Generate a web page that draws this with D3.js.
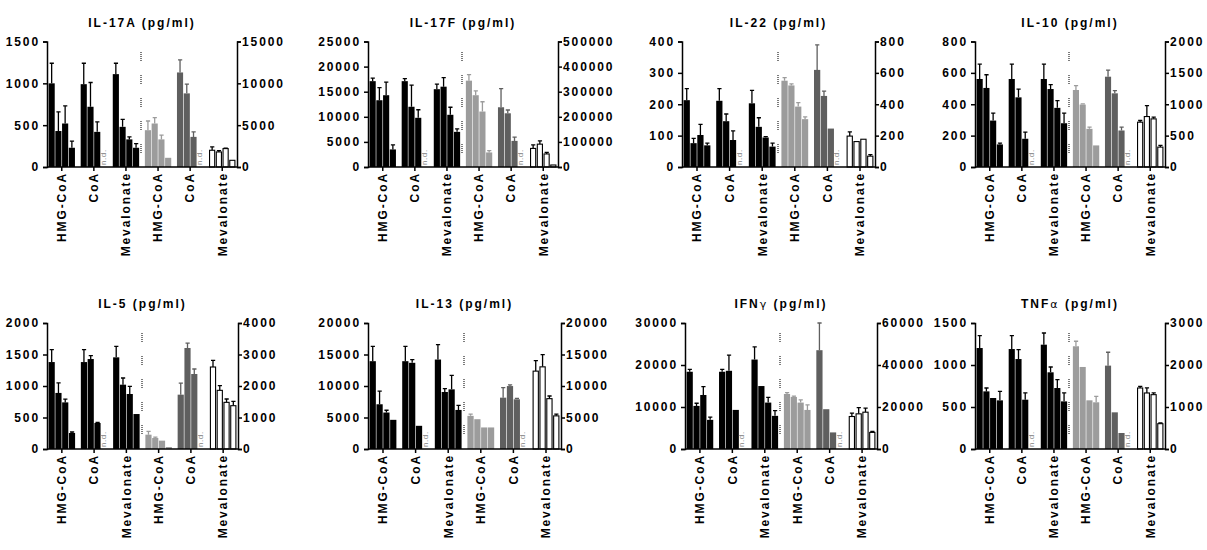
<!DOCTYPE html>
<html>
<head>
<meta charset="utf-8">
<script src="https://cdn.jsdelivr.net/npm/d3@7"></script>
<style>
body { margin: 0; background: #fff; }
svg { display: block; font-family: "Liberation Sans", Arial, sans-serif; }
</style>
</head>
<body>
<svg id="chart" width="1207" height="550"></svg>
<script>
const titles = ["IL-17A (pg/ml)", "IL-17F (pg/ml)", "IL-22 (pg/ml)", "IL-10 (pg/ml)",
    "IL-5 (pg/ml)", "IL-13 (pg/ml)", "IFNγ (pg/ml)", "TNFα (pg/ml)"]
const groupLabels = ["HMG-CoA", "CoA", "Mevalonate", "HMG-CoA", "CoA", "Mevalonate"]

const leftTicks = [
    [0, 500, 1000, 1500],
    [0, 5000, 10000, 15000, 20000, 25000],
    [0, 100, 200, 300, 400],
    [0, 200, 400, 600, 800],
    [0, 500, 1000, 1500, 2000],
    [0, 5000, 10000, 15000, 20000],
    [0, 10000, 20000, 30000],
    [0, 500, 1000, 1500]
]
const rightTicks = [
    [0, 5000, 10000, 15000],
    [0, 100000, 200000, 300000, 400000, 500000],
    [0, 200, 400, 600, 800],
    [0, 500, 1000, 1500, 2000],
    [0, 1000, 2000, 3000, 4000],
    [0, 5000, 10000, 15000, 20000],
    [0, 20000, 40000, 60000],
    [0, 1000, 2000, 3000]
]

// mean per panel -> group -> 4 doses (null = n.d.); groups 1-3 on left axis, 4-6 on right axis
const means = [
    [[1000, 430, 520, 230], [990, 720, 420, null], [1110, 480, 330, 230], [4400, 5200, 3300, 1100], [11300, 8800, 3600, null], [2000, 1800, 2200, 800]],
    [[17100, 13300, 14300, 3500], [17100, 12000, 9800, null], [15500, 16000, 10400, 7000], [344000, 286000, 221000, 58000], [238000, 214000, 104000, null], [74000, 91000, 52000, 8000]],
    [[213, 76, 102, 69], [211, 146, 86, null], [203, 128, 94, 65], [550, 520, 385, 305], [619, 453, 245, null], [197, 162, 177, 69]],
    [[561, 504, 296, 144], [561, 444, 180, null], [561, 497, 377, 279], [1227, 995, 608, 344], [1439, 1174, 582, null], [714, 804, 767, 317]],
    [[1380, 890, 740, 254], [1380, 1428, 413, null], [1455, 1021, 873, 555], [455, 349, 265, 63], [1725, 3206, 2381, null], [2603, 1862, 1481, 1375]],
    [[13940, 7100, 5790, 4630], [13940, 13680, 3680, null], [14200, 9050, 9470, 6200], [5260, 4730, 3420, 3420], [8150, 9990, 7890, null], [12360, 13040, 7990, 5260]],
    [[18390, 10260, 12860, 6940], [18390, 18620, 9310, null], [21300, 14990, 11050, 7890], [26200, 24800, 22100, 18600], [47050, 18950, 7900, null], [15470, 16740, 17530, 7900]],
    [[1202, 686, 607, 579], [1190, 1071, 587, null], [1242, 913, 726, 567], [2446, 1953, 1159, 1112], [1985, 873, 381, null], [1453, 1334, 1294, 603]]
]
const errors = [
    [[240, 230, 210, 80], [250, 290, 120, null], [130, 90, 30, 50], [1100, 700, 500, 0], [1500, 1100, 600, null], [400, 150, 50, 0]],
    [[600, 2500, 2600, 900], [500, 4300, 1600, null], [1000, 1800, 1500, 600], [24000, 17000, 39000, 7000], [74000, 13000, 15000, null], [14000, 13000, 6000, 0]],
    [[37, 15, 34, 7], [39, 23, 29, null], [41, 29, 3, 11], [20, 10, 25, 15], [160, 31, 0, null], [27, 0, 0, 10]],
    [[95, 84, 47, 8], [95, 53, 42, null], [95, 28, 46, 64], [69, 10, 27, 0], [106, 43, 53, null], [27, 175, 27, 27]],
    [[196, 159, 53, 16], [196, 53, 10, null], [174, 106, 122, 0], [106, 30, 0, 0], [369, 158, 158, null], [211, 148, 106, 138]],
    [[2360, 2100, 360, 0], [2360, 520, 0, null], [2370, 520, 2210, 740], [260, 0, 0, 0], [1580, 200, 150, null], [1680, 1950, 420, 260]],
    [[550, 630, 1970, 630], [550, 3710, 0, null], [3000, 0, 1260, 1260], [600, 400, 1300, 2400], [12950, 0, 0, null], [1580, 3000, 1890, 470]],
    [[147, 40, 0, 107], [159, 112, 80, null], [139, 63, 99, 100], [119, 0, 0, 142], [318, 0, 0, null], [40, 119, 40, 16]]
]

// layout: plot frame of each panel (left axis x, right axis x, top, baseline)
const frames = [
    { x0: 47, x1: 237, top: 41.5, base: 167 },
    { x0: 368, x1: 558, top: 41.5, base: 167 },
    { x0: 682, x1: 875, top: 41.5, base: 167 },
    { x0: 975, x1: 1165, top: 41.5, base: 167 },
    { x0: 47, x1: 238, top: 323, base: 449 },
    { x0: 368, x1: 561, top: 323, base: 449 },
    { x0: 685, x1: 877, top: 323, base: 449 },
    { x0: 975, x1: 1165, top: 323, base: 449 }
]
const fills = ["#000", "#000", "#000", "#9c9c9c", "#5f5f5f", "#fff"]
const errColors = ["#000", "#000", "#000", "#9c9c9c", "#5f5f5f", "#000"]

const svg = d3.select("#chart")

function styleAxis(g) {
    g.select(".domain").attr("stroke", "#000").attr("stroke-width", 1.5)
    g.selectAll(".tick line").attr("stroke", "#000").attr("stroke-width", 1.5)
    g.selectAll(".tick text")
        .attr("fill", "#000")
        .attr("font-size", "12px")
        .attr("font-weight", "bold")
        .attr("letter-spacing", "1.9px")
}

titles.forEach((title, p) => {
    const f = frames[p]
    const g = svg.append("g")

    const yL = d3.scaleLinear().domain([0, d3.max(leftTicks[p])]).range([f.base, f.top])
    const yR = d3.scaleLinear().domain([0, d3.max(rightTicks[p])]).range([f.base, f.top])
    const x = d3.scaleBand().domain(d3.range(6)).range([f.x0, f.x1])
        .paddingInner(0.16).paddingOuter(0.04)
    const xs = d3.scaleBand().domain(d3.range(4)).range([0, x.bandwidth()])

    // title, greek letters in a lighter face
    const t = g.append("text")
        .attr("x", (f.x0 + f.x1) / 2)
        .attr("y", f.top - 15)
        .attr("text-anchor", "middle")
        .attr("font-size", "12px")
        .attr("font-weight", "bold")
        .attr("letter-spacing", "2px")
    title.split(/([αγ])/).forEach(part => {
        if (!part) return
        const s = t.append("tspan").text(part)
        if (/[αγ]/.test(part)) s.attr("font-weight", "normal").attr("font-family", "DejaVu Sans").attr("font-size", "11px")
    })

    // dotted separator between the two sets
    const sepX = Math.round((x(2) + x.bandwidth() + x(3)) / 2 - 1)
    g.append("line")
        .attr("x1", sepX).attr("x2", sepX)
        .attr("y1", Math.round(f.top + 10)).attr("y2", f.base - 5)
        .attr("stroke", "#444")
        .attr("stroke-width", 1.4)
        .attr("stroke-dasharray", "1 1 1 1 1 1 1 1 1 14")

    const rows = []
    means[p].forEach((grp, i) => grp.forEach((v, j) => {
        rows.push({ i, j, v, e: errors[p][i][j], y: i < 3 ? yL : yR })
    }))

    const bars = rows.filter(d => d.v !== null)
    const bw = xs.bandwidth()

    g.selectAll(".err").data(bars.filter(d => d.e > 0)).enter()
        .append("path")
        .attr("class", "err")
        .attr("fill", "none")
        .attr("stroke", d => errColors[d.i])
        .attr("stroke-width", 1.3)
        .attr("d", d => {
            const cx = x(d.i) + xs(d.j) + bw / 2
            const y1 = d.y(d.v), y2 = d.y(d.v + d.e)
            return `M${cx},${y1}V${y2}M${cx - 2},${y2}H${cx + 2.2}`
        })

    g.selectAll(".bar").data(bars).enter()
        .append("rect")
        .attr("class", "bar")
        .attr("x", d => x(d.i) + xs(d.j) + (d.i === 5 ? 0.8 : 0.3))
        .attr("width", d => bw - (d.i === 5 ? 1.6 : 0.6))
        .attr("y", d => d.y(d.v))
        .attr("height", d => f.base - d.y(d.v))
        .attr("fill", d => fills[d.i])
        .attr("stroke", d => d.i === 5 ? "#000" : "none")
        .attr("stroke-width", 1.1)

    g.selectAll(".nd").data(rows.filter(d => d.v === null)).enter()
        .append("text")
        .attr("class", "nd")
        .attr("transform", d => `translate(${x(d.i) + xs(d.j) + bw / 2 - 1},${f.base - 2}) rotate(-90)`)
        .attr("dy", "0.35em")
        .attr("font-size", "8px")
        .attr("letter-spacing", "0.6px")
        .attr("fill", "#808080")
        .text("n.d.")

    // axes
    g.append("g")
        .attr("transform", `translate(${f.x0},0)`)
        .call(d3.axisLeft(yL).tickValues(leftTicks[p]).tickSize(4).tickPadding(3).tickFormat(d3.format("d")))
        .call(styleAxis)

    g.append("g")
        .attr("transform", `translate(${f.x1},0)`)
        .call(d3.axisRight(yR).tickValues(rightTicks[p]).tickSize(4).tickPadding(1).tickFormat(d3.format("d")))
        .call(styleAxis)

    const xa = g.append("g")
        .attr("transform", `translate(0,${f.base})`)
        .call(d3.axisBottom(x).tickSize(4).tickSizeOuter(0).tickFormat(i => groupLabels[i]))
        .call(styleAxis)
    xa.select(".domain").attr("d", `M${f.x0},0H${f.x1}`)
    xa.selectAll(".tick text")
        .attr("transform", "rotate(-90)")
        .attr("text-anchor", "end")
        .attr("x", -5)
        .attr("y", 0)
        .attr("dy", "0.36em")

    g.selectAll("path.domain").attr("fill", "none")
})
</script>
</body>
</html>
